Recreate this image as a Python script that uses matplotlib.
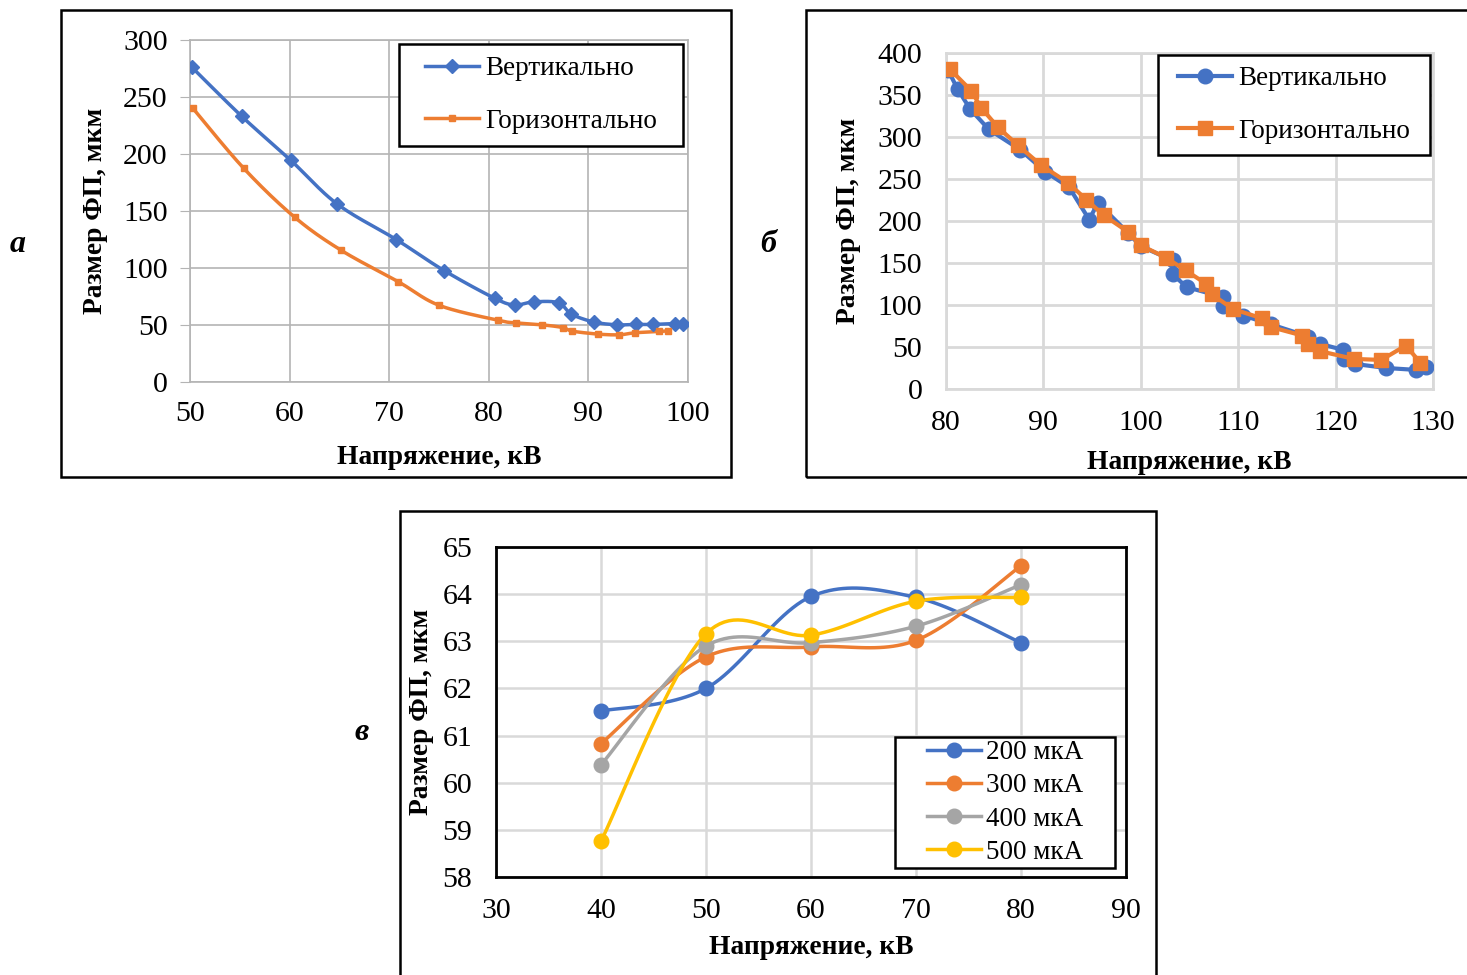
import numpy as np
import matplotlib as mpl
mpl.use('Agg')
import matplotlib.pyplot as plt
from matplotlib.patches import Rectangle

plt.rcParams['font.family'] = ['Liberation Serif', 'DejaVu Serif']

# --- panel а ---
a_vert_x = [50.2, 55.2, 60.1, 64.8, 70.7, 75.5, 80.6, 82.6, 84.5, 87.0, 88.3,
            90.6, 92.9, 94.8, 96.5, 98.7, 99.5]
a_vert_y = [276, 233, 194.6, 156, 125, 97.8, 73.4, 67.6, 70.3, 69.5, 59.5,
            52.5, 50.2, 50.5, 50.5, 51.3, 51.3]
a_hor_x = [50.3, 55.4, 60.5, 65.2, 70.9, 75.0, 80.9, 82.7, 85.3, 87.4, 88.4,
           91.0, 93.1, 94.7, 97.1, 98.0]
a_hor_y = [240, 187.4, 144.6, 115.4, 88, 67.3, 54.2, 51.9, 50.2, 47.8, 44.6,
           42, 41.4, 43.2, 44.3, 44.9]

# --- panel б ---
b_vert_x = [80.2, 81.2, 82.5, 84.4, 87.6, 90.2, 92.65, 94.7, 95.6, 98.7, 100.0,
            103.3, 103.3, 104.7, 108.45, 108.45, 110.5, 113.4, 117.2, 118.4,
            120.8, 120.9, 122.0, 125.2, 128.3, 129.3]
b_vert_y = [380, 356.8, 333, 309, 285, 258.6, 240, 201.7, 221.6, 185.8, 169.9,
            153, 136.4, 121.3, 109.4, 98.3, 87.5, 76.8, 62.5, 53.7,
            46.5, 35.8, 29.8, 25, 22.7, 25.9]
b_hor_x = [80.4, 82.6, 83.6, 85.3, 87.4, 89.75, 92.55, 94.4, 96.2, 98.7, 100.0,
           102.6, 104.6, 106.7, 107.3, 109.5, 112.4, 113.4, 116.6, 117.2, 118.4,
           121.9, 124.7, 127.2, 128.7]
b_hor_y = [380.7, 355, 335, 312, 290, 266.5, 245.4, 225.5, 206.8, 187, 171,
           156.3, 141.2, 125.3, 112.6, 95, 84.3, 73.6, 63.6, 53.7, 45,
           35.8, 34.6, 51.7, 31.4]

# --- panel в ---
c_x = [40, 50, 60, 70, 80]
c_labels = ['200 мкА', '300 мкА', '400 мкА', '500 мкА']
c_200 = [61.52, 62.0, 63.95, 63.93, 62.97]
c_300 = [60.83, 62.67, 62.88, 63.02, 64.6]
c_400 = [60.38, 62.9, 62.97, 63.32, 64.2]
c_500 = [58.76, 63.16, 63.13, 63.85, 63.93]

BLUE = '#4472C4'
ORANGE = '#ED7D31'
GRAY = '#A5A5A5'
YELLOW = '#FFC000'
W, H = 1467, 975


def smooth(x, y, n=24):
    # excel-like smoothed line (catmull-rom as bezier)
    p = np.column_stack([x, y]).astype(float)
    p = np.vstack([p[0], p, p[-1]])
    out = []
    t = np.linspace(0, 1, n)[:, None]
    for i in range(1, len(p) - 2):
        p0, p1, p2, p3 = p[i - 1], p[i], p[i + 1], p[i + 2]
        c1 = p1 + (p2 - p0) / 6
        c2 = p2 - (p3 - p1) / 6
        seg = ((1 - t) ** 3) * p1 + 3 * ((1 - t) ** 2) * t * c1 + 3 * (1 - t) * t ** 2 * c2 + t ** 3 * p2
        out.append(seg if i == 1 else seg[1:])
    s = np.vstack(out)
    return s[:, 0], s[:, 1]


def px(l, t, r, b):
    return [l / W, 1 - b / H, (r - l) / W, (b - t) / H]


def boxed_legend(ax, box, spacing):
    # legend without frame, centred in a hand-placed box (excel style padding)
    l, t, r, b = box
    ax.add_patch(Rectangle((l / W, 1 - b / H), (r - l) / W, (b - t) / H,
                           transform=ax.figure.transFigure, facecolor='white',
                           edgecolor='black', linewidth=1.8, zorder=6, clip_on=False))
    leg = ax.legend(loc='center', bbox_to_anchor=((l + r) / 2 / W, 1 - (t + b) / 2 / H),
                    bbox_transform=ax.figure.transFigure, frameon=False,
                    fontsize=LEG, handlelength=2.0, handletextpad=0.2,
                    labelspacing=spacing, borderpad=0, borderaxespad=0)
    leg.set_zorder(7)
    return leg


fig = plt.figure(figsize=(14.67, 9.75), dpi=100)

TICK = 21.5
LAB = 19.8
LEG = 19.5

# frames
for l, t, r, b in [(61, 10, 731, 477), (806, 10, 1480, 477), (400, 511, 1156, 985)]:
    fig.add_artist(Rectangle((l / W, 1 - b / H), (r - l) / W, (b - t) / H,
                             transform=fig.transFigure, fill=False, edgecolor='black',
                             linewidth=1.8))

# ---------- а ----------
ax = fig.add_axes(px(190, 40, 688, 382))
sx, sy = smooth(a_vert_x, a_vert_y)
ax.plot(sx, sy, color=BLUE, lw=2.5, zorder=3)
ax.plot(a_vert_x, a_vert_y, ls='none', marker='D', ms=7.5, color=BLUE, zorder=4)
sx, sy = smooth(a_hor_x, a_hor_y)
ax.plot(sx, sy, color=ORANGE, lw=2.5, zorder=3)
ax.plot(a_hor_x, a_hor_y, ls='none', marker='s', ms=5, color=ORANGE, zorder=4)
ax.plot([], [], color=BLUE, lw=2.5, marker='D', ms=7.5, label='Вертикально')
ax.plot([], [], color=ORANGE, lw=2.5, marker='s', ms=5, label='Горизонтально')
ax.set_xlim(50, 100)
ax.set_ylim(0, 300)
ax.set_xticks(range(50, 101, 10))
ax.set_yticks(range(0, 301, 50))
ax.grid(True, color='#B4B4B4', lw=1.2)
ax.set_axisbelow(True)
for s in ax.spines.values():
    s.set_color('#B4B4B4')
    s.set_linewidth(1.2)
ax.tick_params(axis='y', length=7, color='#B4B4B4', labelsize=TICK, pad=9)
ax.tick_params(axis='x', length=0, labelsize=TICK, pad=14)
ax.set_xlabel('Напряжение, кВ', fontsize=LAB, fontweight='bold', labelpad=13)
ax.set_ylabel('Размер ФП, мкм', fontsize=LAB, fontweight='bold', labelpad=11)
boxed_legend(ax, (399, 44, 683, 146), 1.0)
fig.text(18 / W, 1 - 245 / H, 'а', fontsize=23, fontweight='bold', fontstyle='italic',
         ha='center', va='center')

# ---------- б ----------
ax = fig.add_axes(px(946, 53, 1433, 389))
ax.plot(b_vert_x, b_vert_y, color=BLUE, lw=3, marker='o', ms=10.5, label='Вертикально', zorder=3)
ax.plot(b_hor_x, b_hor_y, color=ORANGE, lw=3, marker='s', ms=10, label='Горизонтально', zorder=4)
ax.set_xlim(80, 130)
ax.set_ylim(0, 400)
ax.set_xticks(range(80, 131, 10))
ax.set_yticks(range(0, 401, 50))
ax.grid(True, color='#D9D9D9', lw=2)
ax.set_axisbelow(True)
for s in ax.spines.values():
    s.set_color('#D9D9D9')
    s.set_linewidth(2)
ax.tick_params(axis='both', length=0, labelsize=TICK)
ax.tick_params(axis='x', pad=15)
ax.tick_params(axis='y', pad=17)
ax.set_xlabel('Напряжение, кВ', fontsize=LAB, fontweight='bold', labelpad=10)
ax.set_ylabel('Размер ФП, мкм', fontsize=LAB, fontweight='bold', labelpad=12)
boxed_legend(ax, (1158, 55, 1430, 155), 1.0)
fig.text(768 / W, 1 - 245 / H, 'б', fontsize=23, fontweight='bold', fontstyle='italic',
         ha='center', va='center')

# ---------- в ----------
ax = fig.add_axes(px(496, 547, 1126, 877))
for ys, col, lab in zip([c_200, c_300, c_400, c_500], [BLUE, ORANGE, GRAY, YELLOW], c_labels):
    sx, sy = smooth(c_x, ys)
    ax.plot(sx, sy, color=col, lw=2.5, zorder=3)
    ax.plot(c_x, ys, ls='none', marker='o', ms=10.5, color=col, zorder=4)
    ax.plot([], [], color=col, lw=2.5, marker='o', ms=10.5, label=lab)
ax.set_xlim(30, 90)
ax.set_ylim(58, 65)
ax.set_xticks(range(30, 91, 10))
ax.set_yticks(range(58, 66))
ax.grid(True, color='#D9D9D9', lw=1.8)
ax.set_axisbelow(True)
for s in ax.spines.values():
    s.set_color('black')
    s.set_linewidth(2)
    s.set_zorder(8)
ax.tick_params(axis='both', length=0, labelsize=TICK)
ax.tick_params(axis='x', pad=15)
ax.tick_params(axis='y', pad=17)
ax.set_xlabel('Напряжение, кВ', fontsize=LAB, fontweight='bold', labelpad=8)
ax.set_ylabel('Размер ФП, мкм', fontsize=LAB, fontweight='bold', labelpad=6)
boxed_legend(ax, (895, 737, 1115, 868), 0.3)
fig.text(362 / W, 1 - 733 / H, 'в', fontsize=23, fontweight='bold', fontstyle='italic',
         ha='center', va='center')

fig.savefig('out.png', dpi=100)
